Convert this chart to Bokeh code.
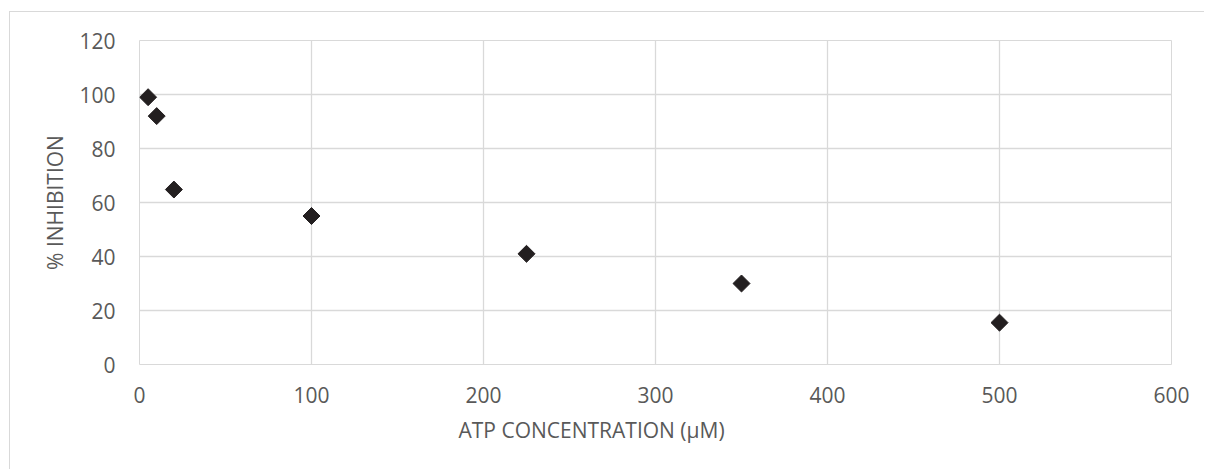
import numpy as np
from bokeh.plotting import figure
from bokeh.models import Title, FixedTicker, Range1d
from bokeh.embed import file_html
from bokeh.resources import INLINE

atp_um = [5, 10, 20, 100, 225, 350, 500]
inhibition = [99, 92, 64.8, 55, 41, 30, 15.5]
x_ticks = [0, 100, 200, 300, 400, 500, 600]
y_ticks = [0, 20, 40, 60, 80, 100, 120]

FONT = "Open Sans"
TXT = "#595959"
GRID = "#d9d9d9"

p = figure(width=1195, height=458, output_backend="svg", toolbar_location=None,
           x_range=Range1d(0, 600), y_range=Range1d(0, 120),
           min_border_left=129, min_border_right=34, min_border_top=28, min_border_bottom=106)
p.margin = (12, 0, 0, 10)
p.styles = {"box-shadow": "-1px -1px 0 0 #d9d9d9"}
p.outline_line_color = GRID
p.background_fill_color = "white"
p.border_fill_color = "white"

for ax, ticks in ((p.xaxis[0], x_ticks), (p.yaxis[0], y_ticks)):
    ax.ticker = FixedTicker(ticks=ticks)
    ax.axis_line_color = None
    ax.major_tick_line_color = None
    ax.minor_tick_line_color = None
    ax.major_tick_out = 0
    ax.major_tick_in = 0
    ax.major_label_text_font = FONT
    ax.major_label_text_font_size = "21px"
    ax.major_label_text_color = TXT
    ax.axis_label_text_font = FONT
    ax.axis_label_text_font_size = "21px"
    ax.axis_label_text_font_style = "normal"
    ax.axis_label_text_color = TXT

p.xaxis[0].major_label_standoff = 22
p.yaxis[0].major_label_standoff = 24
p.yaxis[0].axis_label = "% INHIBITION"
p.yaxis[0].axis_label_standoff = 7

p.xgrid[0].ticker = FixedTicker(ticks=x_ticks)
p.ygrid[0].ticker = FixedTicker(ticks=y_ticks)
for g in (p.xgrid[0], p.ygrid[0]):
    g.grid_line_color = GRID
    g.grid_line_width = 1.3

p.add_layout(Title(text="ATP CONCENTRATION (\u03bcM)", align="left", offset=319,
                   text_font=FONT, text_font_size="21px", text_font_style="normal",
                   text_color=TXT, standoff=17), "below")

p.scatter(atp_um, inhibition, marker="square", angle=np.pi / 4, size=12,
          fill_color="#231f20", line_color="#231f20")

open("out.html", "w").write(file_html(p, INLINE))
